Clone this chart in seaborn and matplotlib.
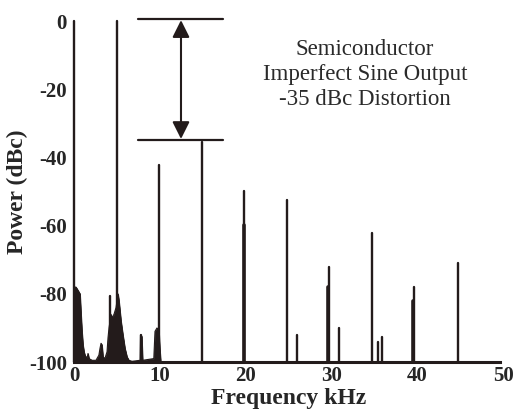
import numpy as np
import pandas as pd
import matplotlib
matplotlib.use("Agg")
import matplotlib.pyplot as plt
import seaborn as sns

# ---- data ----
# discrete spectral lines: frequency (kHz), peak level (dBc)
spike_freq = [0.02, 5.0, 9.95, 14.9, 19.8, 24.8, 26.0, 29.7, 30.9, 34.7, 35.4, 35.9, 39.6, 44.8, 4.2, 7.8]
spike_db = [0.0, 0.0, -42.0, -35.5, -49.8, -52.5, -92.0, -72.0, -90.0, -62.0, -94.0, -92.8, -78.0, -71.0, -80.5, -92.0]
# thicker lower portions of some lines
thick_freq = [19.8, 29.65, 39.55]
thick_db = [-59.8, -78.0, -82.0]
# noise floor envelope near the carrier
noise_freq = [0.0, 0.05, 0.23, 0.47, 0.7, 0.82, 0.93, 1.05, 1.17, 1.28, 1.52, 1.63, 1.75, 2.1, 2.56,
              2.9, 3.03, 3.15, 3.26, 3.38, 3.6, 3.85, 3.96, 4.08, 4.2, 4.3, 4.43, 4.66, 4.9, 5.13,
              5.24, 5.36, 5.48, 5.7, 5.94, 6.18, 6.4, 6.76, 7.7, 7.75, 7.9, 8.0, 9.3, 9.44, 9.67,
              9.9, 10.0, 10.1]
noise_db = [-79, -78, -78, -79, -80, -86, -91, -95, -97, -98, -99, -97.5, -99, -99.5, -99.5,
            -98, -96, -94.5, -95, -98.5, -99, -97, -93, -90, -88, -86, -87, -86, -84, -80,
            -82, -85, -88, -92, -96, -98.5, -99.5, -99.8, -99.5, -92, -92.5, -99.5, -99, -91, -90,
            -91, -96, -99.5]
x_ticks = [0, 10, 20, 30, 40, 50]
y_ticks = [0, -20, -40, -60, -80, -100]
annotation = "Semiconductor\nImperfect Sine Output\n-35 dBc Distortion"

# ---- figure ----
sns.set_style("white")
plt.rcParams["font.family"] = ["Liberation Serif", "DejaVu Serif"]
ink = "#231b1b"

fig = plt.figure(figsize=(5.16, 4.19), dpi=100)
ax = fig.add_axes([74 / 516, 57 / 419, 429 / 516, 340.5 / 419])

def trace(freqs, peaks):
    rows = []
    for i, (f, p) in enumerate(zip(freqs, peaks)):
        rows.append({"line": i, "order": 0, "freq": f, "db": -100.0})
        rows.append({"line": i, "order": 1, "freq": f, "db": p})
    return pd.DataFrame(rows)

ax.fill_between(noise_freq, noise_db, -100, color=ink, lw=0.6, zorder=2)
sns.lineplot(x=noise_freq, y=noise_db, ax=ax, color=ink, lw=0.8, sort=False, zorder=2)
sns.lineplot(data=trace(spike_freq, spike_db), x="freq", y="db", units="line",
             estimator=None, sort=False, ax=ax, color=ink, lw=1.7, zorder=3)
sns.lineplot(data=trace(thick_freq, thick_db), x="freq", y="db", units="line",
             estimator=None, sort=False, ax=ax, color=ink, lw=2.6, zorder=3)
for l in ax.lines:
    l.set_clip_on(False)

ax.set_xlim(0, 50)
ax.set_ylim(-100, 0)
ax.set_xticks(x_ticks)
ax.set_yticks(y_ticks)
ax.set_xticklabels([str(t) for t in x_ticks], fontsize=15, fontweight="bold")
ax.set_yticklabels([str(t) for t in y_ticks], fontsize=15, fontweight="bold")
ax.tick_params(axis="both", length=0)
ax.tick_params(axis="x", pad=3)
ax.tick_params(axis="y", pad=5)
for s in ["top", "right", "left"]:
    ax.spines[s].set_visible(False)
ax.spines["bottom"].set_color(ink)
ax.spines["bottom"].set_linewidth(2.2)
ax.spines["bottom"].set_bounds(0, 49.6)
ax.set_xlabel("Frequency kHz", fontsize=17, fontweight="bold", labelpad=1)
ax.set_ylabel("Power (dBc)", fontsize=17, fontweight="bold", labelpad=1)

# distortion marker
ax.plot([7.45, 17.4], [0.7, 0.7], color=ink, lw=1.6, clip_on=False)
ax.plot([7.45, 17.4], [-34.8, -34.8], color=ink, lw=1.6, clip_on=False)
ax.annotate("", xy=(12.47, 0.4), xytext=(12.47, -34.5),
            arrowprops=dict(arrowstyle="<|-|>", color=ink, lw=1.5,
                            mutation_scale=26, shrinkA=0, shrinkB=0),
            annotation_clip=False)
ax.text(33.9, -15.5, annotation, ha="center", va="center", fontsize=16.5,
        family=["Liberation Serif", "DejaVu Serif"], fontweight="normal",
        color="#2a2a2a", linespacing=1.25)

fig.savefig("out.png", dpi=100)
